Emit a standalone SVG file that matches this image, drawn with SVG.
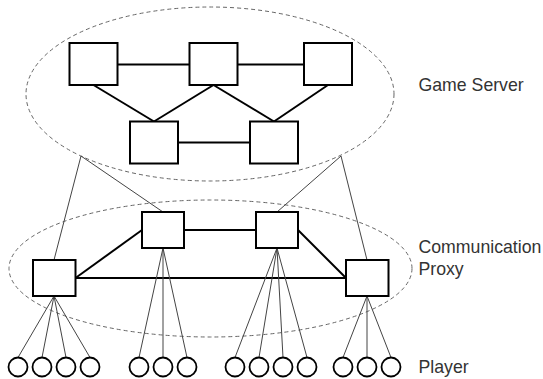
<svg xmlns="http://www.w3.org/2000/svg" width="543" height="379" viewBox="0 0 543 379">
<style>
.box{fill:#fff;stroke:#000;stroke-width:2}
.pl{fill:#fff;stroke:#000;stroke-width:1.8}
.grp{fill:none;stroke:#666;stroke-width:1;stroke-dasharray:4 3}
.thick{stroke:#000;stroke-width:2;fill:none}
.thin{stroke:#444;stroke-width:1;fill:none}
.lbl{font-family:"Liberation Sans",Arial,sans-serif;font-size:17.7px;fill:#333}
</style>
<rect width="543" height="379" fill="#fff"/>
<g id="groups">
<ellipse id="server-group" class="grp" cx="210" cy="94" rx="184" ry="87"/>
<ellipse id="proxy-group" class="grp" cx="210.5" cy="268.5" rx="201.5" ry="68.5"/>
</g>
<g id="connectors">
<line class="thick" x1="117.5" y1="64.5" x2="189.5" y2="64.5"/>
<line class="thick" x1="237.5" y1="64.5" x2="304" y2="64.5"/>
<line class="thick" x1="178" y1="142.5" x2="250" y2="142.5"/>
<line class="thick" x1="93.5" y1="85" x2="154" y2="121.5"/>
<line class="thick" x1="213.5" y1="85" x2="154" y2="121.5"/>
<line class="thick" x1="213.5" y1="85" x2="274" y2="121.5"/>
<line class="thick" x1="328" y1="85" x2="274" y2="121.5"/>
<line class="thin" x1="81" y1="156" x2="54" y2="260"/>
<line class="thin" x1="81" y1="156" x2="163" y2="212"/>
<line class="thin" x1="341" y1="156" x2="277" y2="212"/>
<line class="thin" x1="341" y1="156" x2="367" y2="260"/>
<line class="thick" x1="184" y1="230" x2="256" y2="230"/>
<line class="thick" x1="75.5" y1="278" x2="346" y2="278"/>
<line class="thick" x1="75.5" y1="278" x2="142" y2="230"/>
<line class="thick" x1="298" y1="230" x2="346" y2="278"/>
<g>
<line class="thin" x1="54" y1="296" x2="18" y2="357.5"/>
<line class="thin" x1="54" y1="296" x2="42" y2="357.5"/>
<line class="thin" x1="54" y1="296" x2="66" y2="357.5"/>
<line class="thin" x1="54" y1="296" x2="90" y2="357.5"/>
<line class="thin" x1="163" y1="248" x2="139" y2="357.5"/>
<line class="thin" x1="163" y1="248" x2="163" y2="357.5"/>
<line class="thin" x1="163" y1="248" x2="187" y2="357.5"/>
<line class="thin" x1="277" y1="248" x2="235" y2="357.5"/>
<line class="thin" x1="277" y1="248" x2="259" y2="357.5"/>
<line class="thin" x1="277" y1="248" x2="283" y2="357.5"/>
<line class="thin" x1="277" y1="248" x2="307" y2="357.5"/>
<line class="thin" x1="367" y1="296" x2="343" y2="357.5"/>
<line class="thin" x1="367" y1="296" x2="367" y2="357.5"/>
<line class="thin" x1="367" y1="296" x2="391" y2="357.5"/>
</g>
</g>
<g id="server1"><rect class="box" x="69.5" y="43" width="48" height="42"/></g>
<g id="server2"><rect class="box" x="189.5" y="43" width="48" height="42"/></g>
<g id="server3"><rect class="box" x="304" y="43" width="48" height="42"/></g>
<g id="server4"><rect class="box" x="130" y="121.5" width="48" height="42"/></g>
<g id="server5"><rect class="box" x="250" y="121.5" width="48" height="42"/></g>
<g id="proxy1"><rect class="box" x="33" y="260" width="42.5" height="36"/></g>
<g id="proxy2"><rect class="box" x="142" y="212" width="42" height="36"/></g>
<g id="proxy3"><rect class="box" x="256" y="212" width="42" height="36"/></g>
<g id="proxy4"><rect class="box" x="346" y="260" width="42.5" height="36"/></g>
<g id="players">
<circle class="pl" cx="18" cy="367" r="9.5"/>
<circle class="pl" cx="42" cy="367" r="9.5"/>
<circle class="pl" cx="66" cy="367" r="9.5"/>
<circle class="pl" cx="90" cy="367" r="9.5"/>
<circle class="pl" cx="139" cy="367" r="9.5"/>
<circle class="pl" cx="163" cy="367" r="9.5"/>
<circle class="pl" cx="187" cy="367" r="9.5"/>
<circle class="pl" cx="235" cy="367" r="9.5"/>
<circle class="pl" cx="259" cy="367" r="9.5"/>
<circle class="pl" cx="283" cy="367" r="9.5"/>
<circle class="pl" cx="307" cy="367" r="9.5"/>
<circle class="pl" cx="343" cy="367" r="9.5"/>
<circle class="pl" cx="367" cy="367" r="9.5"/>
<circle class="pl" cx="391" cy="367" r="9.5"/>
</g>
<g id="labels">
<text class="lbl" x="418.5" y="90.5">Game Server</text>
<text class="lbl" x="418.5" y="253.3">Communication</text>
<text class="lbl" x="418.5" y="274.5">Proxy</text>
<text class="lbl" x="418.5" y="372.7">Player</text>
</g>
</svg>
